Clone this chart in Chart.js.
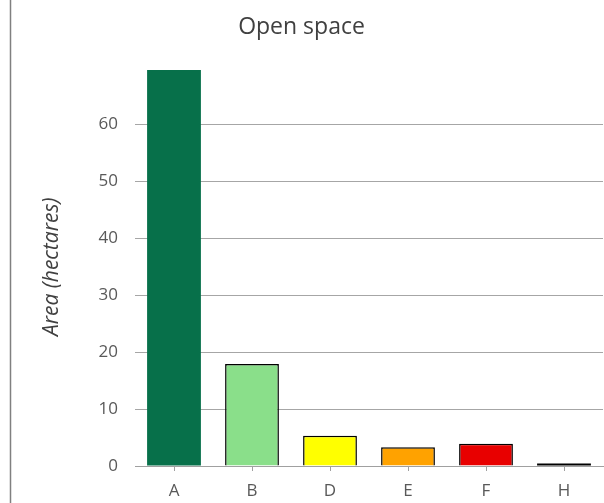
<!DOCTYPE html>
<html>
<head>
<meta charset="utf-8">
<script src="https://cdn.jsdelivr.net/npm/chart.js@4"></script>
<style>
  html, body { margin: 0; padding: 0; background: #fff; }
  #wrap { width: 604px; height: 503px; }
</style>
</head>
<body>
<div id="wrap"><canvas id="grafica"></canvas></div>
<script>
// Datos de la gráfica
const categorias = ["A", "B", "D", "E", "F", "H"];
const areas = [69.6, 17.9, 5.3, 3.3, 3.9, 0.45];
const colores = ["#07704A", "#8ADF8A", "#FFFF00", "#FFA200", "#E80000", "#000000"];
const bordes = ["#07704A", "#000000", "#000000", "#000000", "#000000", "#000000"];
const anchosBorde = [0, 1.5, 1.5, 1.5, 1.5, 0];
const ticksY = [0, 10, 20, 30, 40, 50, 60];

// Línea del marco a la izquierda
const marco = {
  id: "marco",
  afterDraw(chart) {
    const ctx = chart.ctx;
    ctx.save();
    ctx.strokeStyle = "#808080";
    ctx.lineWidth = 1.5;
    ctx.beginPath();
    ctx.moveTo(10.5, 0);
    ctx.lineTo(10.5, chart.height);
    ctx.stroke();
    ctx.restore();
  },
};

const ctx = document.getElementById("grafica").getContext("2d");

new Chart(ctx, {
  type: "bar",
  data: {
    labels: categorias,
    datasets: [
      {
        label: "Open space",
        data: areas,
        backgroundColor: colores,
        borderColor: bordes,
        borderWidth: anchosBorde,
        barPercentage: 0.69,
        categoryPercentage: 1,
      },
    ],
  },
  options: {
    responsive: true,
    maintainAspectRatio: false,
    animation: false,
    layout: { padding: { left: 0, right: 1, top: 0, bottom: 0 } },
    plugins: {
      legend: { display: false },
      tooltip: { enabled: false },
      title: {
        display: true,
        text: "Open space",
        color: "#404040",
        font: { family: "'Open Sans', sans-serif", size: 23, weight: "normal" },
        padding: { top: 14, bottom: 26 },
      },
    },
    scales: {
      x: {
        offset: true,
        border: { display: true, color: "#a0a0a0", width: 1 },
        grid: {
          offset: false,
          drawOnChartArea: false,
          drawTicks: true,
          tickLength: 5,
          color: "#a0a0a0",
        },
        ticks: {
          color: "#595959",
          padding: 10,
          font: { family: "'Open Sans', sans-serif", size: 17 },
        },
        afterFit(scale) {
          scale.height = 37;
        },
      },
      y: {
        min: 0,
        max: 70,
        afterBuildTicks(scale) {
          scale.ticks = ticksY.concat([70]).map((v) => ({ value: v }));
        },
        border: { display: false },
        grid: {
          drawTicks: false,
          color: (c) => (c.tick && c.tick.value === 70 ? "rgba(0,0,0,0)" : "#a6a6a6"),
          lineWidth: 1,
        },
        ticks: {
          color: "#595959",
          padding: 17,
          font: { family: "'Open Sans', sans-serif", size: 17 },
          callback: (v) => (ticksY.includes(v) ? v : ""),
        },
        title: {
          display: true,
          text: "Area (hectares)",
          color: "#404040",
          font: { family: "'Open Sans', sans-serif", size: 21, style: "italic" },
          padding: { top: 39, bottom: 0 },
        },
        afterFit(scale) {
          scale.width = 135;
        },
      },
    },
  },
  plugins: [marco],
});
</script>
</body>
</html>
